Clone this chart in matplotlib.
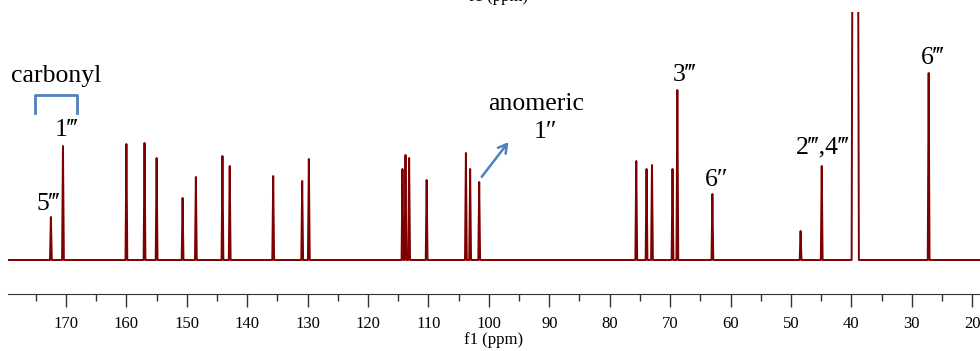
import matplotlib
matplotlib.use("Agg")
import matplotlib.pyplot as plt
from matplotlib.ticker import MultipleLocator

# peak positions (ppm) and heights (arbitrary units)
peak_ppm = [172.5, 170.5, 160.0, 157.0, 155.0, 150.7, 148.5, 144.1, 142.9,
            135.7, 130.9, 129.8, 114.3, 113.8, 113.2, 110.3, 103.8, 103.1,
            101.6, 75.6, 73.9, 73.0, 69.6, 68.8, 63.0, 48.4, 44.9, 39.35, 27.2]
peak_height = [43, 114, 116, 117, 102, 62, 83, 104, 94,
               84, 79, 101, 91, 105, 102, 80, 107, 91,
               78, 99, 91, 95, 91, 170, 66, 29, 94, 1500, 187]
peak_halfwidth = [0.15] * 29
peak_halfwidth[27] = 0.6  # DMSO multiplet, runs off the top

x_range = (179.6, 18.7)
y_range = (-34, 248)

ticks_major = list(range(20, 180, 10))

SERIF = ["Liberation Serif", "DejaVu Serif"]
RED = "#7f0000"
BLUE = "#4f81bd"


def px2ppm(px):
    return 170 - (px - 66) / 6.04


def py2int(py):
    return 260 - py


# build the spectrum trace from the peak list
xs = [x_range[0]]
ys = [0]
for p, h, w in sorted(zip(peak_ppm, peak_height, peak_halfwidth), reverse=True):
    xs += [p + w, p, p - w]
    ys += [0, h, 0]
xs.append(x_range[1])
ys.append(0)

fig = plt.figure(figsize=(9.8, 3.51), dpi=100)
ax = fig.add_axes([8 / 980, 57 / 351, 972 / 980, 282 / 351])
ax.plot(xs, ys, color=RED, linewidth=1.4)
ax.set_xlim(*x_range)
ax.set_ylim(*y_range)

for s in ["top", "left", "right"]:
    ax.spines[s].set_visible(False)
ax.spines["bottom"].set_color("#333333")
ax.set_yticks([])
ax.set_xticks(ticks_major)
ax.xaxis.set_minor_locator(MultipleLocator(5))
ax.tick_params(axis="x", which="major", direction="out", length=9.5, width=1,
               color="#333333", pad=6)
ax.tick_params(axis="x", which="minor", direction="out", length=5, width=1,
               color="#333333")
for lab in ax.get_xticklabels():
    lab.set_fontfamily(SERIF)
    lab.set_fontsize(12)
ax.set_xlabel("f1 (ppm)", family=SERIF, fontsize=12, labelpad=0)

# annotations
txt = dict(family=SERIF, fontsize=18.5, ha="center", va="center", color="black")
ax.text(px2ppm(56), py2int(76), "carbonyl", **txt)
ax.plot([px2ppm(35), px2ppm(35), px2ppm(77), px2ppm(77)],
        [py2int(113), py2int(95), py2int(95), py2int(113)],
        color=BLUE, linewidth=2, solid_joinstyle="round", clip_on=False)
ax.text(px2ppm(66), py2int(130), "1\u2034", **txt)
ax.text(px2ppm(48), py2int(204), "5\u2034", **txt)
ax.text(px2ppm(536), py2int(104), "anomeric", **txt)
ax.text(px2ppm(545), py2int(132), "1\u2033", **txt)
ax.annotate("", xy=(px2ppm(510), py2int(140)), xytext=(px2ppm(480), py2int(179)),
            arrowprops=dict(arrowstyle="->,head_length=0.6,head_width=0.35",
                            color=BLUE, linewidth=1.8))
ax.text(px2ppm(684), py2int(75), "3\u2034", **txt)
ax.text(px2ppm(717), py2int(180), "6\u2033", **txt)
ax.text(px2ppm(823), py2int(147), "2\u2034,4\u2034", **txt)
ax.text(px2ppm(933), py2int(58), "6\u2034", **txt)

# label of the panel above, cut off by the top edge (as in the source figure)
fig.text(0.509, 0.997, "f1 (ppm)", family=SERIF, fontsize=12, ha="center",
         va="baseline")

fig.savefig("out.png", dpi=100)
